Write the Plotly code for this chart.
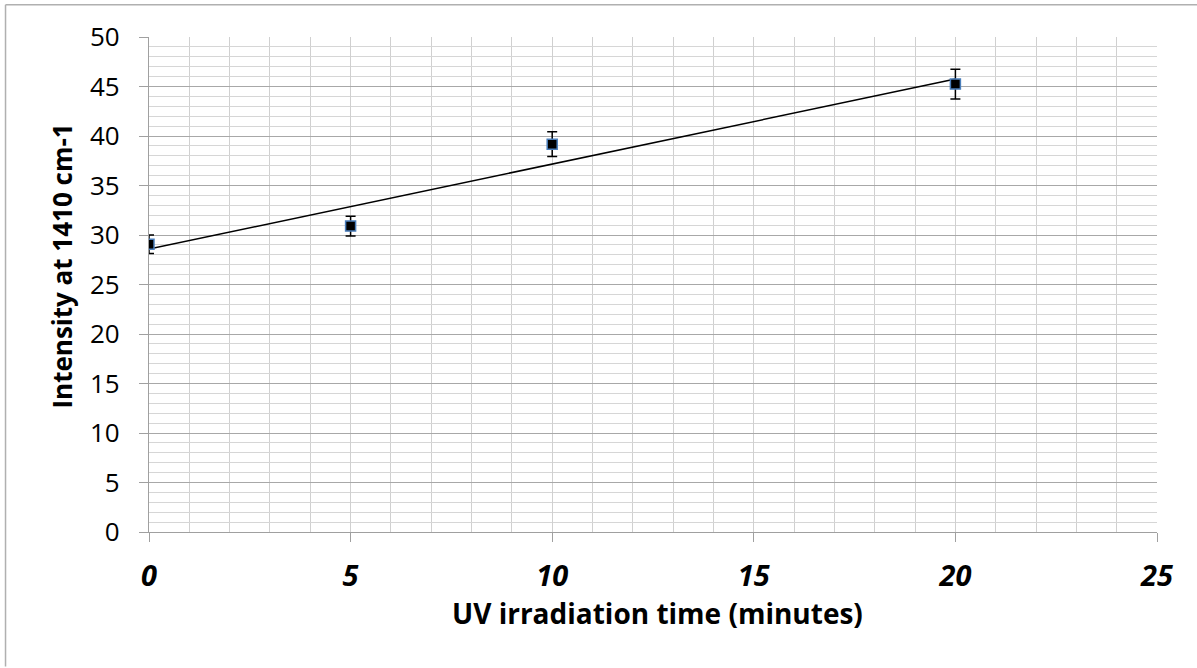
import numpy as np
import plotly.graph_objects as go

# Data
time_min = [0, 5, 10, 20]
intensity = [29.06, 30.9, 39.17, 45.24]
intensity_err = [0.93, 1.0, 1.25, 1.5]
x_ticks = [0, 5, 10, 15, 20, 25]
y_ticks = [0, 5, 10, 15, 20, 25, 30, 35, 40, 45, 50]
x_title = "UV irradiation time (minutes)"
y_title = "Intensity at 1410 cm-1"

slope, intercept = np.polyfit(time_min, intensity, 1)
trend_x = [min(time_min), max(time_min)]
trend_y = [slope * v + intercept for v in trend_x]

W, H = 1197, 668
ML, MR, MT, MB = 148.5, 40.3, 37.3, 136.3
pw, ph = W - ML - MR, H - MT - MB

fig = go.Figure()
fig.add_trace(go.Scatter(x=trend_x, y=trend_y, mode="lines",
                         line=dict(color="black", width=1.5),
                         hoverinfo="skip", showlegend=False))
fig.add_trace(go.Scatter(
    x=time_min, y=intensity, mode="markers",
    marker=dict(symbol="square", size=10, color="black",
                line=dict(color="#4a7ebb", width=1.5)),
    error_y=dict(type="data", array=intensity_err, visible=True,
                 color="black", thickness=1.5, width=5),
    showlegend=False))

font_family = "Open Sans, Noto Sans, sans-serif"

fig.update_layout(
    width=W, height=H,
    margin=dict(l=ML, r=MR, t=MT, b=MB, autoexpand=False),
    paper_bgcolor="white", plot_bgcolor="white",
    font=dict(family=font_family, color="black"),
    xaxis=dict(
        range=[0, 25], tickvals=x_ticks,
        ticktext=[f"<b><i>{v}</i></b>" for v in x_ticks],
        tickfont=dict(size=29, color="black"),
        ticklabelstandoff=9,
        showgrid=True, gridcolor="#d0d0d0", gridwidth=1.3,
        minor=dict(dtick=1, showgrid=True, gridcolor="#d0d0d0", gridwidth=1.3),
        showline=True, linecolor="#a0a0a0", linewidth=1.3,
        ticks="outside", ticklen=9, tickcolor="#a0a0a0", tickwidth=1.3,
        zeroline=False,
    ),
    yaxis=dict(
        range=[0, 50], tickvals=y_ticks,
        tickfont=dict(size=26, color="black"),
        ticklabelstandoff=14,
        showgrid=True, gridcolor="#a8a8a8", gridwidth=1.3,
        minor=dict(dtick=1, showgrid=True, gridcolor="#d6d6d6", gridwidth=1.3),
        showline=True, linecolor="#a0a0a0", linewidth=1.3,
        ticks="outside", ticklen=9, tickcolor="#a0a0a0", tickwidth=1.3,
        zeroline=False,
    ),
)

# axis titles placed as in the reference
fig.add_annotation(text=f"<b>{x_title}</b>", xref="paper", yref="paper",
                   x=(657.5 - ML) / pw, y=-(613 - (MT + ph)) / ph,
                   xanchor="center", yanchor="middle", showarrow=False,
                   font=dict(size=28, color="black"))
fig.add_annotation(text=f"<b>{y_title}</b>", xref="paper", yref="paper",
                   x=(61 - ML) / pw, y=(MT + ph - 266) / ph, textangle=-90,
                   xanchor="center", yanchor="middle", showarrow=False,
                   font=dict(size=26, color="black"))

# chart-area frame (left and top edges visible)
fig.add_shape(type="line", xref="paper", yref="paper",
              x0=(5 - ML) / pw, x1=(5 - ML) / pw,
              y0=-(H - MT - ph - 2) / ph, y1=1 + (MT - 5) / ph,
              line=dict(color="#b0b0b0", width=1.5))
fig.add_shape(type="line", xref="paper", yref="paper",
              x0=(5 - ML) / pw, x1=1 + (MR + 2) / pw,
              y0=1 + (MT - 5) / ph, y1=1 + (MT - 5) / ph,
              line=dict(color="#b0b0b0", width=1.5))

fig.write_html("out.html")
